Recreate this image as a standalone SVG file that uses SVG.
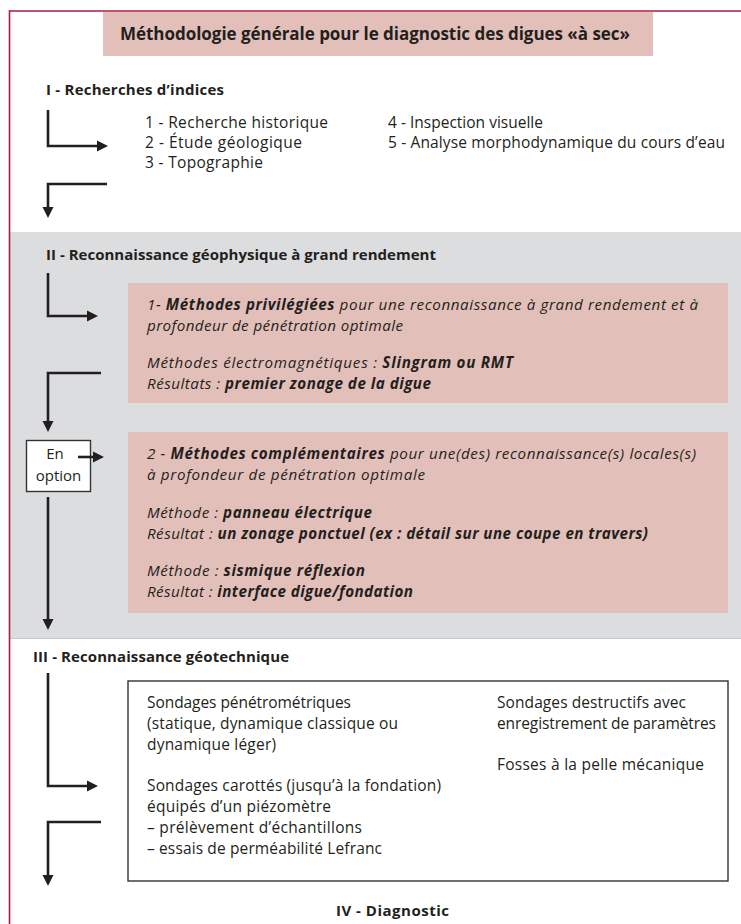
<svg xmlns="http://www.w3.org/2000/svg" width="741" height="924" viewBox="0 0 741 924">
<defs>
<style>
.t{font-family:"Open Sans","Liberation Sans",sans-serif;fill:#231f20}
.h{font-weight:700;font-size:15px}
.ttl{font-weight:700;font-size:17px}
.r{font-size:15.5px}
.o{font-size:15px}
.it{font-style:italic;font-size:15.2px}
.bi{font-weight:700}
.pink{fill:#e3bfb9}
.wbox{fill:#fff;stroke:#333;stroke-width:1.4}
.con{fill:none;stroke:#231f20;stroke-width:2.6;stroke-linejoin:miter}
</style>
<marker id="ah" markerUnits="userSpaceOnUse" markerWidth="11" markerHeight="12" refX="7" refY="6" orient="auto" viewBox="0 0 11 12">
<path d="M0,0.5 L11,6 L0,11.5 z" fill="#231f20"/>
</marker>
</defs>
<rect x="0" y="0" width="741" height="924" fill="#fff"/>
<g id="frame">
<rect x="10" y="232" width="731" height="406" fill="#dcdddf"/>
<line x1="10" y1="638.5" x2="741" y2="638.5" stroke="#c6c7c9" stroke-width="1"/>
<line x1="9" y1="11" x2="741" y2="11" stroke="#a81c40" stroke-width="1.6"/>
<line x1="9.5" y1="10.2" x2="9.5" y2="924" stroke="#a81c40" stroke-width="1.6"/>
</g>
<g id="title">
<rect class="pink" x="103" y="12" width="550" height="44"/>
<text class="t ttl" x="120" y="40" textLength="510">Méthodologie générale pour le diagnostic des digues «à sec»</text>
</g>
<g id="heading-I">
<text class="t h" x="46" y="95" textLength="178">I - Recherches d’indices</text>
</g>
<g id="list-I">
<text class="t r" x="145" y="128" textLength="183">1 - Recherche historique</text>
<text class="t r" x="145" y="148" textLength="157">2 - Étude géologique</text>
<text class="t r" x="145" y="168" textLength="118">3 - Topographie</text>
<text class="t r" x="388" y="128" textLength="155">4 - Inspection visuelle</text>
<text class="t r" x="388" y="148" textLength="337">5 - Analyse morphodynamique du cours d’eau</text>
</g>
<g id="heading-II">
<text class="t h" x="46" y="260" textLength="390">II - Reconnaissance géophysique à grand rendement</text>
</g>
<g id="box-1">
<rect class="pink" x="128" y="283" width="600" height="120"/>
<text class="t it" x="147" y="310" textLength="551">1- <tspan class="bi">Méthodes privilégiées</tspan> pour une reconnaissance à grand rendement et à</text>
<text class="t it" x="147" y="331" textLength="256">profondeur de pénétration optimale</text>
<text class="t it" x="147" y="368" textLength="366">Méthodes électromagnétiques : <tspan class="bi">Slingram ou RMT</tspan></text>
<text class="t it" x="147" y="389" textLength="284">Résultats : <tspan class="bi">premier zonage de la digue</tspan></text>
</g>
<g id="box-2">
<rect class="pink" x="128" y="432" width="600" height="181"/>
<text class="t it" x="147" y="459" textLength="549">2 - <tspan class="bi">Méthodes complémentaires</tspan> pour une(des) reconnaissance(s) locales(s)</text>
<text class="t it" x="147" y="480" textLength="278">à profondeur de pénétration optimale</text>
<text class="t it" x="147" y="518" textLength="225">Méthode : <tspan class="bi">panneau électrique</tspan></text>
<text class="t it" x="147" y="539" textLength="501">Résultat : <tspan class="bi">un zonage ponctuel (ex : détail sur une coupe en travers)</tspan></text>
<text class="t it" x="147" y="576" textLength="218">Méthode : <tspan class="bi">sismique réflexion</tspan></text>
<text class="t it" x="147" y="597" textLength="266">Résultat : <tspan class="bi">interface digue/fondation</tspan></text>
</g>
<g id="en-option">
<rect class="wbox" x="26.5" y="440.5" width="64" height="51" stroke-width="1.2"/>
<text class="t o" x="55" y="459" text-anchor="middle">En</text>
<text class="t o" x="58.5" y="481" text-anchor="middle">option</text>
</g>
<g id="heading-III">
<text class="t h" x="33" y="662" textLength="256">III - Reconnaissance géotechnique</text>
</g>
<g id="box-III">
<rect class="wbox" x="128" y="681" width="600" height="200"/>
<text class="t r" x="147" y="708" textLength="204">Sondages pénétrométriques</text>
<text class="t r" x="147" y="729" textLength="251">(statique, dynamique classique ou</text>
<text class="t r" x="147" y="750" textLength="129">dynamique léger)</text>
<text class="t r" x="147" y="791" textLength="294">Sondages carottés (jusqu’à la fondation)</text>
<text class="t r" x="147" y="812" textLength="184">équipés d’un piézomètre</text>
<text class="t r" x="147" y="833" textLength="215">– prélèvement d’échantillons</text>
<text class="t r" x="147" y="854" textLength="235">– essais de perméabilité Lefranc</text>
<text class="t r" x="497" y="708" textLength="189">Sondages destructifs avec</text>
<text class="t r" x="497" y="729" textLength="219">enregistrement de paramètres</text>
<text class="t r" x="497" y="770" textLength="207">Fosses à la pelle mécanique</text>
</g>
<g id="heading-IV">
<text class="t h" x="336" y="916" textLength="113">IV - Diagnostic</text>
</g>
<g id="connectors">
<path class="con" d="M48,110 V146 H104" marker-end="url(#ah)"/>
<path class="con" d="M107,184 H48 V214" marker-end="url(#ah)"/>
<path class="con" d="M48,273 V316 H94" marker-end="url(#ah)"/>
<path class="con" d="M101,373 H48 V428" marker-end="url(#ah)"/>
<path class="con" d="M78,457 H100" marker-end="url(#ah)"/>
<path class="con" d="M48,497 V626" marker-end="url(#ah)"/>
<path class="con" d="M48,673 V786 H94" marker-end="url(#ah)"/>
<path class="con" d="M101,822 H48 V882" marker-end="url(#ah)"/>
</g>
</svg>
